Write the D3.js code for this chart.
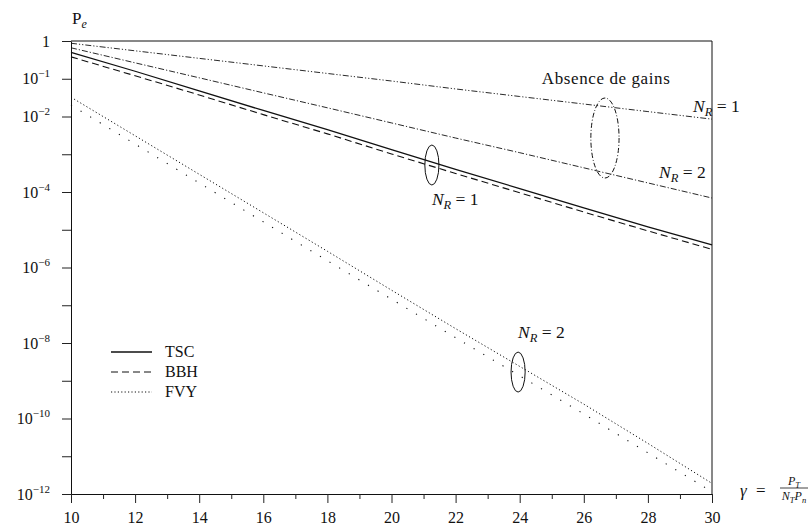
<!DOCTYPE html>
<html><head><meta charset="utf-8">
<script src="https://cdn.jsdelivr.net/npm/d3@7"></script>
<style>
svg text, svg tspan { font-family: "Liberation Serif", serif; }
</style>
</head>
<body style="margin:0">
<svg id="c" width="810" height="526" font-family="Liberation Serif"></svg>
<script>
// ---- data (gamma in x, Pe values) ----
const gamma = [10,12,14,16,18,20,22,24,26,28,30];
const tscNR1 = [0.501,0.158,0.0479,0.01445,4.47e-3,1.32e-3,3.98e-4,1.23e-4,3.80e-5,1.20e-5,3.98e-6];
const bbhNR1 = [0.380,0.120,0.0372,0.0112,3.47e-3,1.02e-3,3.09e-4,9.55e-5,2.95e-5,9.33e-6,3.02e-6];
const noGainNR1 = [0.871,0.550,0.347,0.219,0.138,0.0871,0.0537,0.0339,0.0214,0.0135,8.51e-3];
const noGainNR2 = [0.661,0.264,0.106,0.0423,0.0170,6.76e-3,2.69e-3,1.10e-3,4.37e-4,1.74e-4,6.92e-5];
const tscNR2 = [3.24e-2,3.09e-3,2.95e-4,2.82e-5,2.69e-6,2.51e-7,2.40e-8,2.40e-9,2.40e-10,2.19e-11,1.91e-12];
const fvyNR2 = [2.00e-2,1.86e-3,1.74e-4,1.62e-5,1.51e-6,1.45e-7,1.38e-8,1.35e-9,1.32e-10,1.23e-11,1.15e-12];
const yExponents = [0,-1,-2,-3,-4,-5,-6,-7,-8,-9,-10,-11,-12];
const yLabeled = [0,-1,-2,-4,-6,-8,-10,-12];
const xTicks = [10,11,12,13,14,15,16,17,18,19,20,21,22,23,24,25,26,27,28,29,30];
const xLabeled = [10,12,14,16,18,20,22,24,26,28,30];
const legendNames = ["TSC","BBH","FVY"];

const FONT = "Liberation Serif";
const svg = d3.select("#c");
const x = d3.scaleLinear().domain([10,30]).range([71,712]);
const y = d3.scaleLog().domain([1e-12,1]).range([494,41]);

function txt(sel, size){ return sel.append("text").attr("font-family",FONT).attr("font-size",size).attr("fill","#111"); }

// frame (top & right)
svg.append("line").attr("x1",x(10)).attr("x2",x(30)).attr("y1",y(1)).attr("y2",y(1)).attr("stroke","#111");
svg.append("line").attr("x1",x(30)).attr("x2",x(30)).attr("y1",y(1)).attr("y2",y(1e-12)).attr("stroke","#111");

// y axis
const ya = svg.append("g").attr("transform",`translate(${x(10)},0)`)
  .call(d3.axisLeft(y).tickValues(yExponents.map(e=>Math.pow(10,e))).tickSize(9).tickSizeOuter(0).tickFormat(""));
ya.attr("font-family",FONT);
ya.select(".domain").attr("stroke","#111");
ya.selectAll(".tick line").attr("stroke","#222");
ya.selectAll(".tick").each(function(d){
  const e = Math.round(Math.log10(d));
  if(!yLabeled.includes(e)) return;
  const t = txt(d3.select(this),16).attr("x",-21).attr("y",5).attr("text-anchor","end");
  if(e===0){ t.text("1"); }
  else{
    t.append("tspan").text("10");
    t.append("tspan").attr("dy",-7).attr("font-size",11).text("\u2212"+(-e));
  }
});

// x axis
const xa = svg.append("g").attr("transform",`translate(0,${y(1e-12)})`)
  .call(d3.axisBottom(x).tickValues(xTicks).tickSize(9).tickSizeOuter(0).tickFormat(""));
xa.attr("font-family",FONT);
xa.select(".domain").attr("stroke","#111");
xa.selectAll(".tick line").attr("stroke","#222").attr("y2",d=>xLabeled.includes(d)?9:5);
xa.selectAll(".tick").filter(d=>xLabeled.includes(d)).each(function(d){
  txt(d3.select(this),16).attr("y",29).attr("text-anchor","middle").text(d);
});

// curves
const line = d3.line().x((d,i)=>x(gamma[i])).y(d=>y(d));
const series = [
  {v:noGainNR1, dash:"6,2,1.2,2,1.2,2", w:0.9},
  {v:noGainNR2, dash:"6,2,1.2,2", w:0.9},
  {v:tscNR1, dash:null, w:1.3},
  {v:bbhNR1, dash:"7,4", w:1.1},
  {v:tscNR2, dash:"1.2,2.4", w:1},
  {v:fvyNR2, dash:"1.2,10", w:1.1}
];
series.forEach(s=>{
  svg.append("path").datum(s.v).attr("d",line).attr("fill","none")
    .attr("stroke","#111").attr("stroke-width",s.w).attr("stroke-dasharray",s.dash);
});

// annotations (placed in data coordinates)
function ellipse(g0, logc, rg, rdec, dash){
  svg.append("ellipse").attr("cx",x(g0)).attr("cy",y(Math.pow(10,logc)))
    .attr("rx",x(g0+rg)-x(g0))
    .attr("ry",(y(Math.pow(10,logc-rdec))-y(Math.pow(10,logc+rdec)))/2)
    .attr("fill","none").attr("stroke","#111").attr("stroke-width",1)
    .attr("stroke-dasharray",dash);
}
ellipse(26.66,-2.57,0.44,1.06,"5,2,1,2");
ellipse(21.26,-3.285,0.22,0.53,null);
ellipse(23.95,-8.77,0.22,0.53,null);

function nrLabel(g0, logb, n){
  const t = txt(svg,17.5).attr("x",x(g0)).attr("y",y(Math.pow(10,logb)));
  t.append("tspan").attr("font-style","italic").text("N");
  t.append("tspan").attr("dy",4).attr("font-style","italic").attr("font-size",12.5).text("R");
  t.append("tspan").attr("dy",-4).text(" = "+n);
}
nrLabel(29.41,-1.88,1);
nrLabel(28.35,-3.63,2);
nrLabel(21.26,-4.34,1);
nrLabel(23.95,-7.87,2);

txt(svg,17).attr("x",x(24.69)).attr("y",y(Math.pow(10,-1.14)))
  .attr("textLength",128).text("Absence de gains");

// P_e title
const pt = txt(svg,17).attr("x",x(10)+1).attr("y",y(1)-17);
pt.append("tspan").text("P");
pt.append("tspan").attr("dy",4).attr("font-style","italic").attr("font-size",12).text("e");

// gamma label
const gx = x(30)+28, gy = y(1e-12);
txt(svg,17).attr("x",gx).attr("y",gy+2).attr("font-style","italic").text("\u03b3");
txt(svg,17).attr("x",gx+16).attr("y",gy+2).text("=");
txt(svg,12).attr("x",gx+54).attr("y",gy-9).attr("text-anchor","middle")
  .call(t=>{t.append("tspan").attr("font-style","italic").text("P");
            t.append("tspan").attr("dy",3).attr("font-style","italic").attr("font-size",8.5).text("T");});
svg.append("line").attr("x1",gx+40).attr("x2",gx+68).attr("y1",gy-6).attr("y2",gy-6).attr("stroke","#111").attr("stroke-width",0.8);
txt(svg,12).attr("x",gx+54).attr("y",gy+6).attr("text-anchor","middle")
  .call(t=>{t.append("tspan").attr("font-style","italic").text("N");
            t.append("tspan").attr("dy",3).attr("font-style","italic").attr("font-size",8.5).text("T");
            t.append("tspan").attr("dy",-3).attr("font-style","italic").text("P");
            t.append("tspan").attr("dy",3).attr("font-style","italic").attr("font-size",8.5).text("n");});

// legend
const legDash = [null,"7,4","1.2,2.2"];
legendNames.forEach((n,i)=>{
  const ly = 352 + i*20;
  svg.append("line").attr("x1",111).attr("x2",152).attr("y1",ly).attr("y2",ly)
    .attr("stroke","#111").attr("stroke-width",i===0?1.3:1).attr("stroke-dasharray",legDash[i]);
  txt(svg,16).attr("x",165).attr("y",ly+5).text(n);
});
</script></body></html>
